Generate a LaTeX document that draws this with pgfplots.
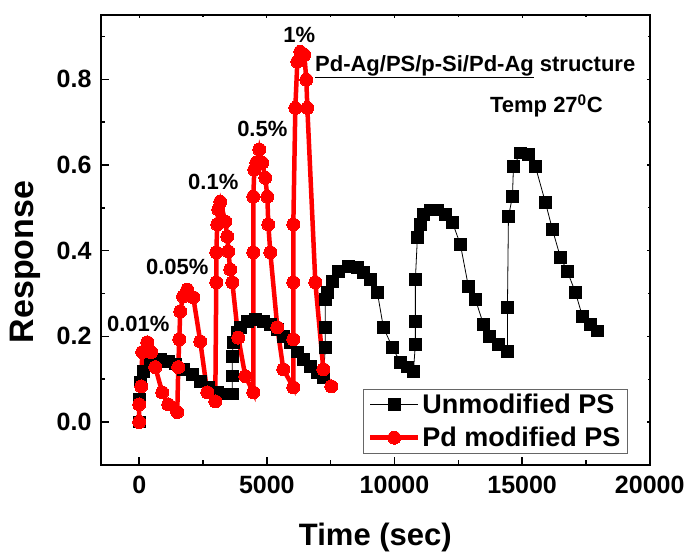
\documentclass[border=0pt]{standalone}
\usepackage{fontspec}
\setmainfont{Liberation Sans}
\usepackage{pgfplots}
\usepackage{pgfplotstable}
\pgfplotsset{compat=1.18}
\newcommand\tickfont{\bfseries\fontsize{25}{30}\selectfont}
\newcommand\labfont{\bfseries\fontsize{34}{40}\selectfont}
\newcommand\xlabfont{\bfseries\fontsize{31}{37}\selectfont}
\newcommand\legfont{\bfseries\fontsize{27}{32}\selectfont}
\newcommand\annfont{\bfseries\fontsize{22}{26}\selectfont}

\pgfplotstableread{
t r
0 0.000
0 0.053
40 0.093
157 0.118
431 0.139
823 0.146
1137 0.141
1411 0.135
1725 0.123
2078 0.111
2391 0.095
2705 0.081
3058 0.069
3371 0.065
3646 0.065
3646 0.107
3646 0.153
3685 0.186
3842 0.209
3959 0.221
4234 0.235
4547 0.239
4861 0.235
5135 0.228
5410 0.216
5645 0.200
5919 0.186
6194 0.163
6429 0.146
6703 0.130
6978 0.116
7213 0.104
7291 0.174
7291 0.221
7291 0.286
7370 0.302
7566 0.328
7801 0.351
8193 0.363
8546 0.361
8781 0.349
9055 0.333
9330 0.302
9565 0.221
9918 0.174
10231 0.139
10506 0.128
10741 0.118
10819 0.181
10819 0.235
10819 0.333
10898 0.431
11015 0.461
11133 0.484
11407 0.495
11682 0.495
11995 0.484
12270 0.466
12583 0.414
12897 0.316
13171 0.286
13485 0.228
13720 0.200
14073 0.181
14426 0.165
14426 0.267
14465 0.479
14622 0.526
14661 0.596
14935 0.628
15249 0.624
15523 0.596
15915 0.512
16190 0.449
16503 0.384
16778 0.351
17091 0.302
17366 0.246
17680 0.228
17954 0.212
}\unmod

\pgfplotstableread{
t r
0 0.000
0 0.041
78 0.083
118 0.163
314 0.186
470 0.163
627 0.128
902 0.069
1137 0.041
1490 0.023
1529 0.128
1568 0.193
1607 0.258
1720 0.293
1882 0.309
2117 0.291
2391 0.188
2666 0.069
2979 0.048
3018 0.326
3018 0.396
3058 0.461
3097 0.496
3175 0.514
3371 0.468
3450 0.433
3489 0.398
3567 0.356
3646 0.326
3881 0.197
4155 0.107
4469 0.069
4469 0.396
4469 0.526
4508 0.589
4586 0.605
4704 0.636
4822 0.605
4939 0.570
5018 0.526
5057 0.461
5135 0.396
5410 0.221
5645 0.123
6037 0.081
6037 0.193
6037 0.326
6037 0.461
6115 0.733
6194 0.841
6311 0.864
6468 0.857
6546 0.799
6586 0.733
6899 0.326
7213 0.123
7526 0.083
}\pdmod

\begin{document}
\begin{tikzpicture}
\begin{axis}[
  name=ax,
  scale only axis, width=549pt, height=450pt,
  xmin=-1500, xmax=20000, ymin=-0.1, ymax=0.95,
  scaled ticks=false,
  xtick={0,5000,10000,15000,20000},
  minor xtick={2500,7500,12500,17500},
  ytick={0,0.2,0.4,0.6,0.8},
  minor ytick={-0.1,0.1,0.3,0.5,0.7,0.9},
  xtick pos=bottom, ytick pos=left,
  tick align=inside,
  major tick length=8pt, minor tick length=4.5pt,
  axis line style={line width=2pt},
  every tick/.style={black, line width=1.5pt},
  /pgf/number format/assume math mode=true,
  tick label style={font=\tickfont},
  xticklabel style={/pgf/number format/1000 sep={}, yshift=-8pt},
  yticklabel style={/pgf/number format/fixed,/pgf/number format/fixed zerofill,/pgf/number format/precision=1, xshift=-6pt},
  xlabel={Time (sec)}, ylabel={Response},
  xlabel style={font=\xlabfont, at={(axis description cs:0.5,0)}, anchor=base, yshift=-81pt},
  ylabel style={font=\labfont, at={(axis description cs:-0.1384,0.451)}, anchor=center},
  legend style={at={(axis description cs:0.477,0.169)}, anchor=north west,
    draw=black!60, line width=0.6pt, font=\legfont, inner xsep=5pt, inner ysep=3pt,
    row sep=8pt},
  legend cell align=left,
  legend image code/.code={\draw[mark repeat=2,mark phase=2,#1] plot coordinates {(0pt,0pt) (24pt,0pt) (48pt,0pt)};},
]
\addplot[black, line width=0.8pt, mark=square*, mark size=5.8pt, mark options={solid, fill=black, line width=0pt}] table[x=t,y=r] {\unmod};
\addlegendentry{Unmodified PS}
\addplot[red, line width=4.5pt, mark=*, mark size=6.5pt, mark options={solid, fill=red, draw=red, line width=0pt}] table[x=t,y=r] {\pdmod};
\addlegendentry{Pd modified PS}

\node[font=\annfont, anchor=base] at (axis cs:-40,0.211) {0.01\%};
\node[font=\annfont, anchor=base] at (axis cs:1490,0.344) {0.05\%};
\node[font=\annfont, anchor=base] at (axis cs:2900,0.542) {0.1\%};
\node[font=\annfont, anchor=base] at (axis cs:4822,0.666) {0.5\%};
\node[font=\annfont, anchor=base] at (axis cs:6272,0.885) {1\%};
\node[font=\annfont, anchor=base west, inner sep=0pt] at (axis cs:6884,0.818) {\underline{Pd-Ag/PS/p-Si/Pd-Ag} structure};
\node[font=\annfont, anchor=base west, inner sep=0pt] at (axis cs:13740,0.722) {Temp 27\textsuperscript{0}C};
\end{axis}
\begin{axis}[
  at={(ax.south west)}, anchor=south west,
  scale only axis, width=549pt, height=450pt,
  xmin=-1500, xmax=20000, ymin=-0.1, ymax=0.95,
  scaled ticks=false,
  xtick={0,5000,10000,15000,20000},
  minor xtick={2500,7500,12500,17500},
  ytick={0,0.2,0.4,0.6,0.8},
  minor ytick={-0.1,0.1,0.3,0.5,0.7,0.9},
  xtick pos=right, ytick pos=right,
  tick align=inside,
  major tick length=3pt, minor tick length=2pt,
  every tick/.style={black, line width=1.2pt},
  xticklabels={}, yticklabels={},
  axis line style={black, line width=2pt},
]
\end{axis}
\draw[line width=2pt, black] (ax.south west) rectangle (ax.north east);
\pgfresetboundingbox
\useasboundingbox ([shift={(-101pt,-88pt)}]ax.south west) rectangle ([shift={(38.3pt,15pt)}]ax.north east);
\end{tikzpicture}
\end{document}
